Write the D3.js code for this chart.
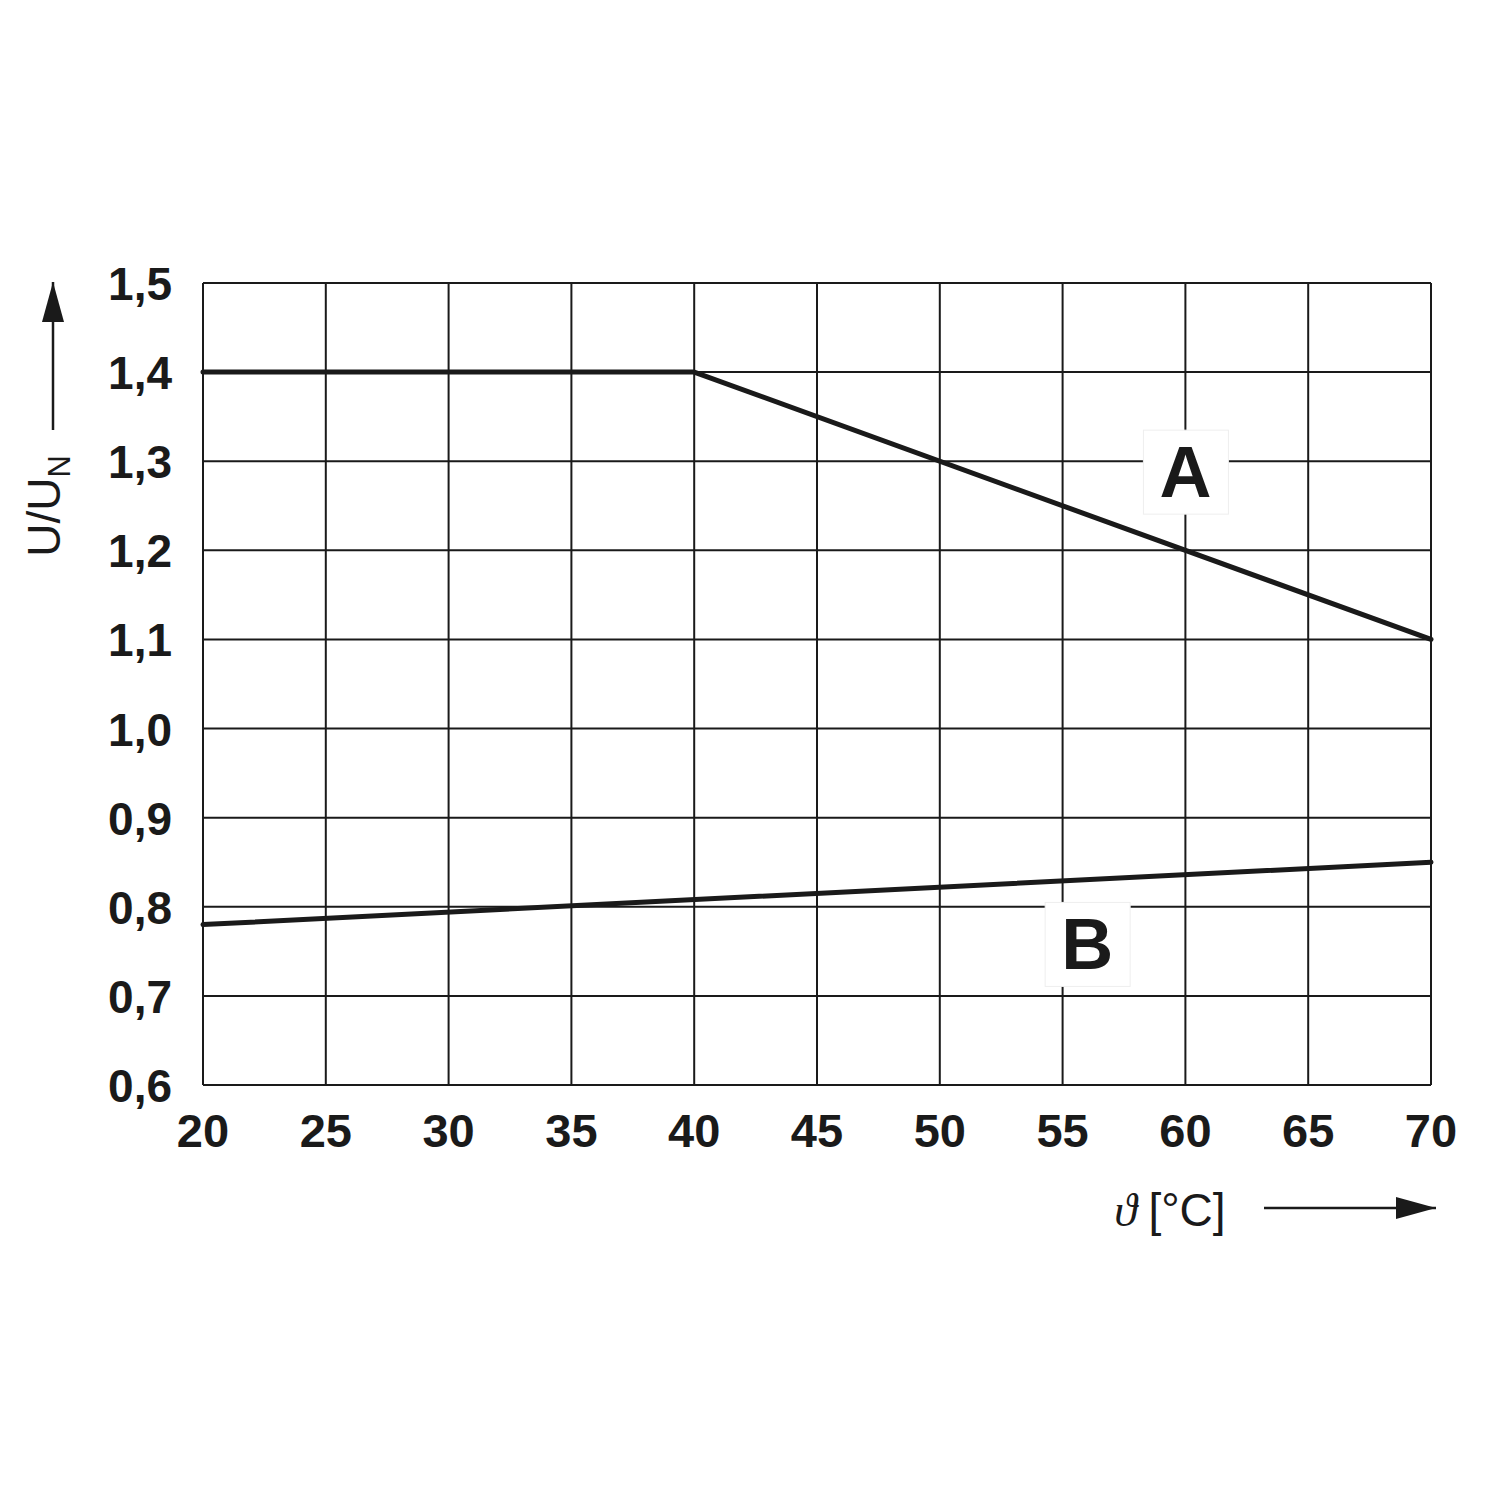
<!DOCTYPE html>
<html>
<head>
<meta charset="utf-8">
<script src="https://cdn.jsdelivr.net/npm/d3@7"></script>
<style>
  body { margin: 0; background: #fff; }
  text { font-family: "Liberation Sans", Arial, sans-serif; fill: #1a1a1a; }
</style>
</head>
<body>
<svg width="1500" height="1500"></svg>
<script>
// data
var xTicks = [20, 25, 30, 35, 40, 45, 50, 55, 60, 65, 70];
var yTicks = [0.6, 0.7, 0.8, 0.9, 1.0, 1.1, 1.2, 1.3, 1.4, 1.5];
var curveA = [[20, 1.4], [40, 1.4], [70, 1.1]];
var curveB = [[20, 0.78], [70, 0.85]];
var labels = [{ name: "A", x: 60, y: 1.29 }, { name: "B", x: 56, y: 0.76 }];

var svg = d3.select("svg");
var margin = { top: 283, left: 203 },
  width = 1431 - 203,
  height = 1085 - 283;

var g = svg.append("g")
  .attr("transform", "translate(" + margin.left + "," + margin.top + ")");

var x = d3.scaleLinear().domain([20, 70]).range([0, width]);
var y = d3.scaleLinear().domain([0.6, 1.5]).range([height, 0]);

// grid
g.selectAll(".vgrid").data(xTicks).enter().append("line")
  .attr("x1", d => x(d)).attr("x2", d => x(d))
  .attr("y1", 0).attr("y2", height)
  .attr("stroke", "#1a1a1a").attr("stroke-width", 2);
g.selectAll(".hgrid").data(yTicks).enter().append("line")
  .attr("y1", d => y(d)).attr("y2", d => y(d))
  .attr("x1", 0).attr("x2", width)
  .attr("stroke", "#1a1a1a").attr("stroke-width", 2);

// tick labels
g.selectAll(".xlab").data(xTicks).enter().append("text")
  .attr("x", d => x(d)).attr("y", height + 62)
  .attr("text-anchor", "middle")
  .attr("font-size", "47px").attr("font-weight", "bold")
  .text(d => d);
g.selectAll(".ylab").data(yTicks).enter().append("text")
  .attr("x", -31).attr("y", d => y(d) + 17)
  .attr("text-anchor", "end")
  .attr("font-size", "46px").attr("font-weight", "bold")
  .text(d => d3.format(".1f")(d).replace(".", ","));

// curves
var line = d3.line().x(d => x(d[0])).y(d => y(d[1]));
[curveA, curveB].forEach(function (c) {
  g.append("path").datum(c)
    .attr("d", line)
    .attr("fill", "none")
    .attr("stroke", "#1a1a1a")
    .attr("stroke-width", 5)
    .attr("stroke-linejoin", "round")
    .attr("stroke-linecap", "round");
});

// curve labels with white boxes
labels.forEach(function (l) {
  var cx = x(l.x), cy = y(l.y);
  g.append("rect")
    .attr("x", cx - 42).attr("y", cy - 40)
    .attr("width", 85).attr("height", 84)
    .attr("fill", "#fff").attr("stroke", "#eee").attr("stroke-width", 1);
  g.append("text")
    .attr("x", cx).attr("y", cy + 27)
    .attr("text-anchor", "middle")
    .attr("font-size", "72px").attr("font-weight", "bold")
    .text(l.name);
});

// arrow marker
svg.append("defs").append("marker")
  .attr("id", "arrow")
  .attr("viewBox", "0 0 10 10")
  .attr("preserveAspectRatio", "none")
  .attr("refX", 10).attr("refY", 5)
  .attr("markerUnits", "userSpaceOnUse")
  .attr("markerWidth", 40).attr("markerHeight", 22)
  .attr("orient", "auto")
  .append("path").attr("d", "M0,0L10,5L0,10Z").attr("fill", "#1a1a1a");

// y axis title
var yt = svg.append("text")
  .attr("transform", "translate(60,506) rotate(-90)")
  .attr("text-anchor", "middle")
  .attr("font-size", "46px");
yt.append("tspan").text("U/U");
yt.append("tspan").attr("font-size", "31px").attr("dy", 10).text("N");
svg.append("line")
  .attr("x1", 53).attr("x2", 53).attr("y1", 430).attr("y2", 282)
  .attr("stroke", "#1a1a1a").attr("stroke-width", 2.5)
  .attr("marker-end", "url(#arrow)");

// x axis title
var xt = svg.append("text")
  .attr("x", 1170).attr("y", 1226)
  .attr("text-anchor", "middle")
  .attr("font-size", "46px");
xt.append("tspan").attr("font-family", "Liberation Serif").attr("font-style", "italic").text("\u03d1 ");
xt.append("tspan").text("[°C]");
svg.append("line")
  .attr("x1", 1264).attr("x2", 1436).attr("y1", 1208).attr("y2", 1208)
  .attr("stroke", "#1a1a1a").attr("stroke-width", 2.5)
  .attr("marker-end", "url(#arrow)");
</script>
</body>
</html>
